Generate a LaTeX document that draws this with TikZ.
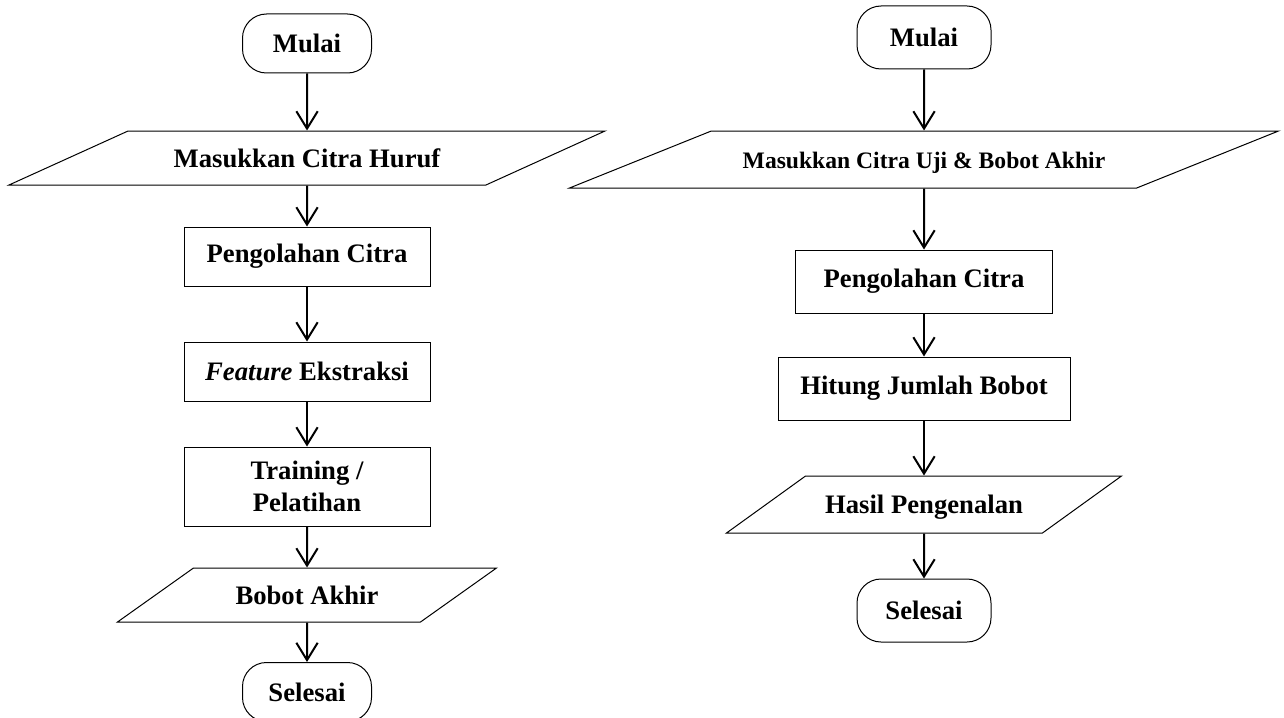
\documentclass[tikz,border=0pt]{standalone}
\usepackage{fontspec}
\setmainfont{Liberation Serif}
\usetikzlibrary{shapes.geometric,arrows.meta}

\begin{document}
\begin{tikzpicture}[x=0.75pt, y=-0.75pt,
    every node/.style={draw, line width=0.75pt, align=center, font=\bfseries\fontsize{20}{24}\selectfont},
    terminal/.style 2 args={rectangle, rounded corners=18pt, minimum width=#1, minimum height=#2},
    proc/.style 2 args={rectangle, minimum width=#1, minimum height=#2},
    io/.style={trapezium, trapezium stretches body, text height=16pt, text depth=2pt, inner ysep=#1},
    flow/.style={-{Straight Barb[length=13pt, width=16pt]}, line width=1.5pt}]
    \useasboundingbox (0,0) rectangle (1284,717);

    \node[terminal={96.75pt}{44.25pt}] (startL) at (307,43.5) {Mulai};
    \node[io=11.25pt, trapezium left angle=24.4, trapezium right angle=155.6,
          minimum width=447pt] (inL) at (307,158) {Masukkan Citra Huruf};
    \node[proc={184.5pt}{44.25pt}] (procL) at (307,256.5) {Pengolahan Citra};
    \node[proc={184.5pt}{44.25pt}] (featL) at (307,371.5) {\textit{Feature} Ekstraksi};
    \node[proc={184.5pt}{59.25pt}] (trainL) at (307,486.5) {Training /\\Pelatihan};
    \node[io=11.25pt, trapezium left angle=35.4, trapezium right angle=144.6,
          minimum width=284.25pt] (outL) at (307,595) {Bobot Akhir};
    \node[terminal={96.75pt}{44.25pt}] (endL) at (307,692) {Selesai};

    \node[terminal={100.5pt}{47.25pt}] (startR) at (924,37.5) {Mulai};
    \node[io=12.375pt, trapezium left angle=21.9, trapezium right angle=158.1,
          minimum width=531.75pt,
          font=\bfseries\fontsize{17.7}{21}\selectfont] (inR) at (924,159.5) {Masukkan Citra Uji \& Bobot Akhir};
    \node[proc={192.75pt}{47.25pt}] (procR) at (924,281.5) {Pengolahan Citra};
    \node[proc={219pt}{47.25pt}] (countR) at (924,388.5) {Hitung Jumlah Bobot};
    \node[io=12.375pt, trapezium left angle=35.8, trapezium right angle=144.2,
          minimum width=296.25pt] (outR) at (924,504.5) {Hasil Pengenalan};
    \node[terminal={100.5pt}{47.25pt}] (endR) at (924,610.5) {Selesai};

    \draw[flow] (startL) -- (inL);
    \draw[flow] (inL) -- (procL);
    \draw[flow] (procL) -- (featL);
    \draw[flow] (featL) -- (trainL);
    \draw[flow] (trainL) -- (outL);
    \draw[flow] (outL) -- (endL);

    \draw[flow] (startR) -- (inR);
    \draw[flow] (inR) -- (procR);
    \draw[flow] (procR) -- (countR);
    \draw[flow] (countR) -- (outR);
    \draw[flow] (outR) -- (endR);
\end{tikzpicture}
\end{document}
